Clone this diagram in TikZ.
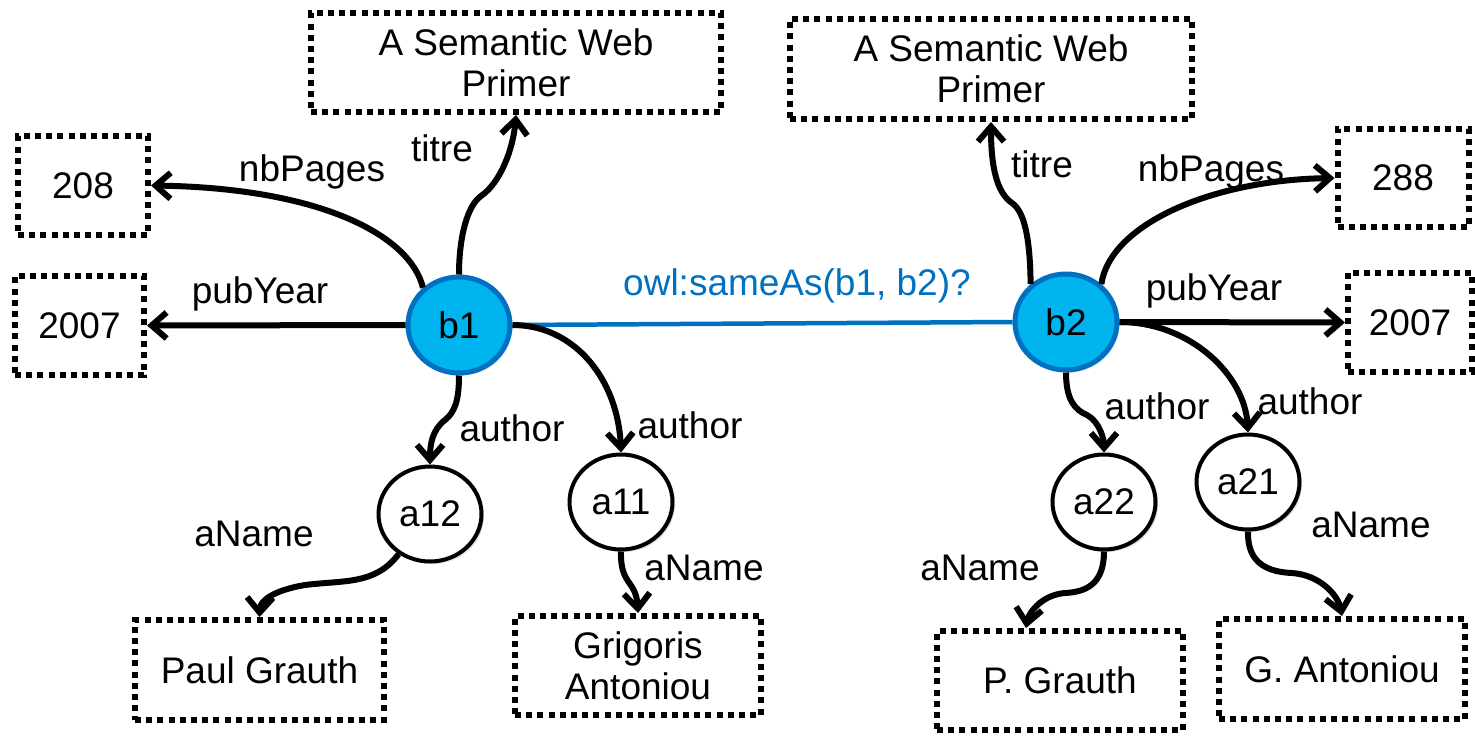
\documentclass[tikz,border=0pt]{standalone}
\usepackage{fontspec}
\setmainfont{Liberation Sans}
\usetikzlibrary{arrows.meta,shapes.geometric,shadows}
\definecolor{resfill}{RGB}{0,180,240}
\definecolor{resline}{RGB}{0,112,192}
\begin{document}
\begin{tikzpicture}[x=1pt,y=-1pt,
  every node/.style={font=\fontsize{37}{41}\selectfont},
  lit/.style={draw, line width=6pt, dash pattern=on 6pt off 5.2pt, inner sep=0pt, align=center, fill=white},
  softshadow/.style={drop shadow={opacity=0.25,shadow xshift=2.5pt,shadow yshift=-2.5pt}},
  blank/.style={ellipse, draw, line width=4pt, fill=white, inner sep=0pt,
    minimum width=103pt, minimum height=95pt, softshadow},
  res/.style={ellipse, draw=resline, line width=5pt, fill=resfill, inner sep=0pt,
    minimum width=102pt, minimum height=96pt, softshadow},
  rel/.style={line width=6pt, -{Straight Barb[length=15pt,width=26pt]}},
  owl/.style={draw=resline, line width=4.5pt},
  lbl/.style={text height=26pt, text depth=0pt, inner sep=0pt}
]
\useasboundingbox (0,0) rectangle (1475,737);

% ---- literal values (dotted boxes) ----
\node[lit, minimum width=410pt, minimum height=99pt] (t1) at (516,62.5) {A Semantic Web\\Primer};
\node[lit, minimum width=130pt, minimum height=99pt] (p1) at (83,185.5) {208};
\node[lit, minimum width=129pt, minimum height=99pt] (y1) at (79.5,325.5) {2007};
\node[lit, minimum width=249pt, minimum height=100pt] (paul) at (259.5,670) {Paul Grauth};
\node[lit, minimum width=246pt, minimum height=99pt] (grig) at (638,665.5) {Grigoris\\Antoniou};

\node[lit, minimum width=402pt, minimum height=100pt] (t2) at (991,69) {A Semantic Web\\Primer};
\node[lit, minimum width=131pt, minimum height=98pt] (p2) at (1403,178) {288};
\node[lit, minimum width=124pt, minimum height=99pt] (y2) at (1410,322.5) {2007};
\node[lit, minimum width=246pt, minimum height=99pt] (pg) at (1060,680.5) {P. Grauth};
\node[lit, minimum width=246pt, minimum height=100pt] (ga) at (1342,669) {G. Antoniou};

% ---- resources and blank nodes ----
\node[res] (b1) at (459,325) {b1};
\node[res] (b2) at (1066,322) {b2};
\node[blank] (a12) at (430,514) {a12};
\node[blank] (a11) at (621,502) {a11};
\node[blank] (a22) at (1104,502) {a22};
\node[blank] (a21) at (1248,482) {a21};

% ---- candidate identity link ----
\draw[owl] (b1.east) -- (b2.west);
\node[lbl, text=resline] (owllbl) at (797,282) {owl:sameAs(b1, b2)?};

% ---- properties of b1 ----
\draw[rel] (b1.north) .. controls (459,235) and (468,205) .. (481,196)
                      .. controls (500,183) and (513,150) .. (t1.south);
\draw[rel] (b1.134) .. controls (410,235) and (320,188) .. (p1.east);
\draw[rel] (b1.west) -- (y1.east);
\draw[rel] (b1.south) .. controls (459,400) and (455,412) .. (445,420)
                      .. controls (432,430) and (430,445) .. (a12.north);
\draw[rel] (b1.east) .. controls (575,325) and (618,380) .. (a11.north);
\draw[rel] (a12.232) .. controls (375,585) and (345,580) .. (305,585)
                     .. controls (275,590) and (260,600) .. (paul.north);
\draw[rel] (a11.south) .. controls (620,585) and (636,580) .. (grig.north);

% ---- properties of b2 ----
\draw[rel] (b2.133) .. controls (1030,240) and (1025,212) .. (1012,203)
                    .. controls (996,192) and (991,165) .. (t2.south);
\draw[rel] (b2.47) .. controls (1110,225) and (1210,180) .. (p2.west);
\draw[rel] (b2.east) -- (y2.west);
\draw[rel] (b2.south) .. controls (1066,400) and (1075,410) .. (1087,415)
                      .. controls (1100,422) and (1104,440) .. (a22.north);
\draw[rel] (b2.east) .. controls (1190,322) and (1245,375) .. (a21.north);
\draw[rel] (a22.south) .. controls (1104,585) and (1085,592) .. (1065,593)
                       .. controls (1040,595) and (1028,615) .. ([xshift=-34pt]pg.north);
\draw[rel] (a21.south) .. controls (1247,565) and (1270,572) .. (1292,573)
                       .. controls (1320,575) and (1338,595) .. (ga.north);

% ---- property labels ----
\node[lbl] (l1) at (442,148) {titre};
\node[lbl] (l2) at (312,168) {nbPages};
\node[lbl] (l3) at (260,290) {pubYear};
\node[lbl] (l4) at (512,428) {author};
\node[lbl] (l5) at (690,425) {author};
\node[lbl] (l6) at (254,533) {aName};
\node[lbl] (l7) at (704,567) {aName};

\node[lbl] (r1) at (1042,164) {titre};
\node[lbl] (r2) at (1211,168) {nbPages};
\node[lbl] (r3) at (1214,287) {pubYear};
\node[lbl] (r4) at (1157,406) {author};
\node[lbl] (r5) at (1310,401) {author};
\node[lbl] (r6) at (980,567) {aName};
\node[lbl] (r7) at (1371,524) {aName};
\end{tikzpicture}
\end{document}
